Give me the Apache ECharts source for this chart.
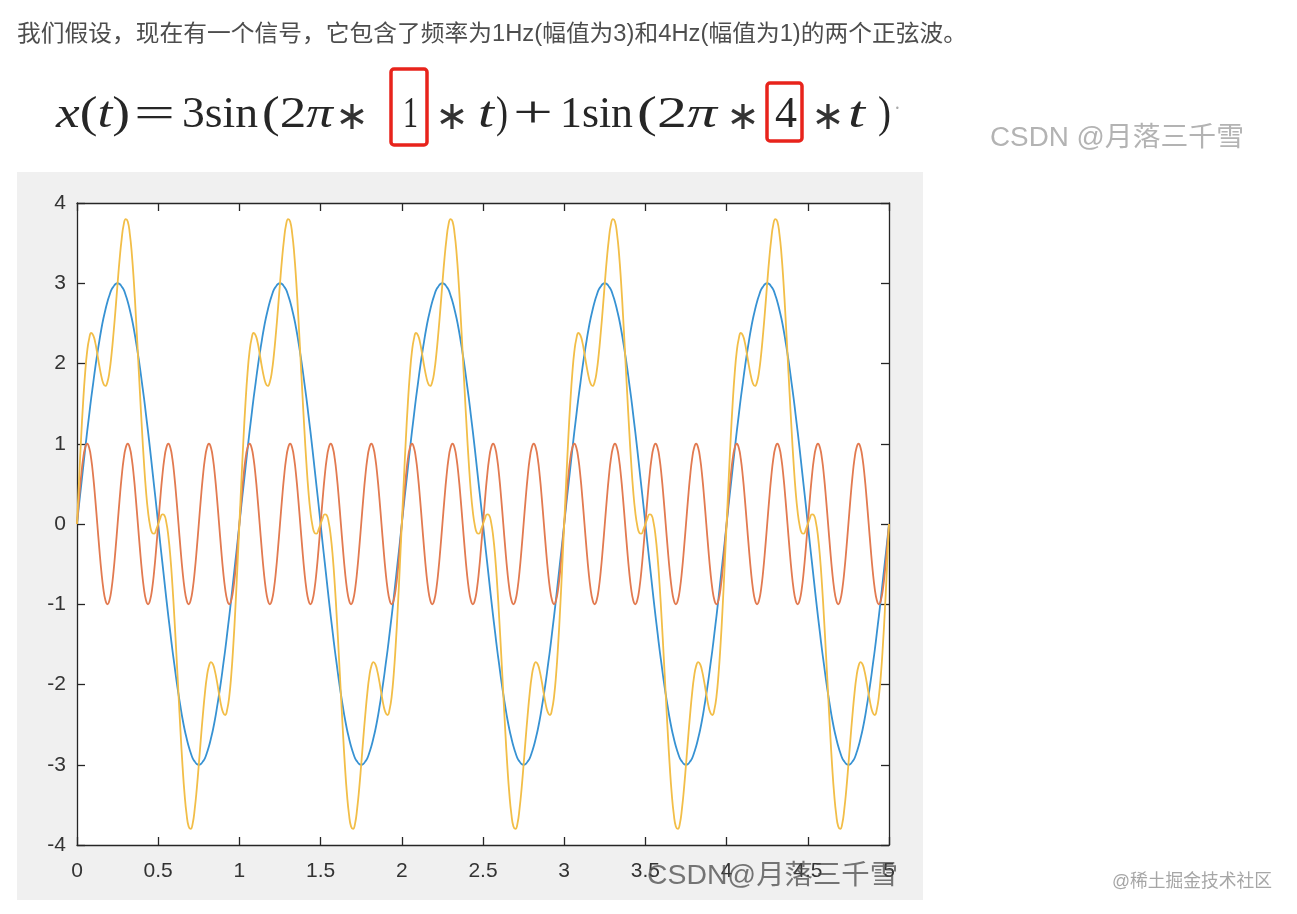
<!DOCTYPE html>
<html>
<head>
<meta charset="utf-8">
<script src="https://cdn.jsdelivr.net/npm/echarts@6/dist/echarts.min.js"></script>
<style>
  html, body { margin:0; padding:0; background:#fff; width:1297px; height:914px; overflow:hidden; }
  #panel { position:absolute; left:17px; top:172px; width:906px; height:728px; background:#f0f0f0; }
  #chart { position:absolute; left:0; top:0; width:1297px; height:914px; }
  #overlay { position:absolute; left:0; top:0; width:1297px; height:914px; pointer-events:none; z-index:10; }
</style>
</head>
<body>
<div id="panel"></div>
<div id="chart"></div>
<svg id="overlay" width="1297" height="914" xmlns="http://www.w3.org/2000/svg">
  <text x="17" y="41" font-size="23" fill="#4d4d4d" font-family="Liberation Sans, Noto Sans CJK SC, sans-serif" textLength="950" lengthAdjust="spacingAndGlyphs">我们假设，现在有一个信号，它包含了频率为1Hz(幅值为3)和4Hz(幅值为1)的两个正弦波。</text>
  <g font-family="Liberation Serif, DejaVu Serif, serif" font-size="44" fill="#262626">
    <text x="56" y="127" textLength="74" lengthAdjust="spacingAndGlyphs"><tspan font-style="italic">x</tspan>(<tspan font-style="italic">t</tspan>)</text>
    <text x="134" y="127" textLength="41" lengthAdjust="spacingAndGlyphs">=</text>
    <text x="182" y="127" textLength="76" lengthAdjust="spacingAndGlyphs">3sin</text>
    <text x="262" y="127" textLength="71" lengthAdjust="spacingAndGlyphs">(2<tspan font-style="italic">π</tspan></text>
    <text x="403" y="127" textLength="15" lengthAdjust="spacingAndGlyphs">1</text>
    <text x="478" y="127" textLength="16" lengthAdjust="spacingAndGlyphs" font-style="italic">t</text>
    <text x="496" y="127" textLength="12" lengthAdjust="spacingAndGlyphs">)</text>
    <text x="513" y="127" textLength="40" lengthAdjust="spacingAndGlyphs">+</text>
    <text x="560" y="127" textLength="73" lengthAdjust="spacingAndGlyphs">1sin</text>
    <text x="637" y="127" textLength="80" lengthAdjust="spacingAndGlyphs">(2<tspan font-style="italic">π</tspan></text>
    <text x="775" y="127" textLength="22" lengthAdjust="spacingAndGlyphs">4</text>
    <text x="848" y="127" textLength="17" lengthAdjust="spacingAndGlyphs" font-style="italic">t</text>
    <text x="878" y="127" textLength="13" lengthAdjust="spacingAndGlyphs">)</text>
    <text x="894" y="115" font-size="20" fill="#aaa">·</text>
  </g>
  <g font-family="DejaVu Sans, sans-serif" font-size="40" fill="#333" text-anchor="middle">
    <text x="352" y="129">∗</text>
    <text x="452" y="129">∗</text>
    <text x="743" y="129">∗</text>
    <text x="828" y="129">∗</text>
  </g>
  <rect x="391" y="69" width="36" height="76" rx="3" ry="3" fill="none" stroke="#e8231b" stroke-width="3.5"/>
  <rect x="767" y="83" width="35" height="58" rx="3" ry="3" fill="none" stroke="#e8231b" stroke-width="3.5"/>
  <text x="990" y="146" font-size="27" fill="#b3b3b3" font-family="Liberation Sans, Noto Sans CJK SC, sans-serif" textLength="254" lengthAdjust="spacingAndGlyphs">CSDN @月落三千雪</text>
  <text x="647" y="884" font-size="27" fill="#4a4a4a" fill-opacity="0.75" font-family="Liberation Sans, Noto Sans CJK SC, sans-serif" textLength="251" lengthAdjust="spacingAndGlyphs">CSDN@月落三千雪</text>
  <text x="1112" y="887" font-size="18" fill="#a6a6a6" font-family="Liberation Sans, Noto Sans CJK SC, sans-serif" textLength="160" lengthAdjust="spacingAndGlyphs">@稀土掘金技术社区</text>
</svg>
<script>
// Sample spacing of the values (seconds)
const STEP = 0.0125;
const X_MIN = 0, X_MAX = 5, X_INTERVAL = 0.5;
const Y_MIN = -4, Y_MAX = 4, Y_INTERVAL = 1;

// 3 sin(2*pi*1*t)  (blue)
const blue = [
0,0.24,0.47,0.70,0.93,1.15,1.36,1.57,1.76,1.95,2.12,2.28,2.43,2.56,2.67,2.77,2.85,2.92,2.96,2.99,3,2.99,2.96,2.92,2.85,2.77,2.67,2.56,2.43,2.28,2.12,1.95,1.76,1.57,1.36,1.15,0.93,0.70,0.47,0.24,0,-0.24,-0.47,-0.70,-0.93,-1.15,-1.36,-1.57,-1.76,-1.95,-2.12,-2.28,-2.43,-2.56,-2.67,-2.77,-2.85,-2.92,-2.96,-2.99,-3,-2.99,-2.96,-2.92,-2.85,-2.77,-2.67,-2.56,-2.43,-2.28,-2.12,-1.95,-1.76,-1.57,-1.36,-1.15,-0.93,-0.70,-0.47,-0.24,
0,0.24,0.47,0.70,0.93,1.15,1.36,1.57,1.76,1.95,2.12,2.28,2.43,2.56,2.67,2.77,2.85,2.92,2.96,2.99,3,2.99,2.96,2.92,2.85,2.77,2.67,2.56,2.43,2.28,2.12,1.95,1.76,1.57,1.36,1.15,0.93,0.70,0.47,0.24,0,-0.24,-0.47,-0.70,-0.93,-1.15,-1.36,-1.57,-1.76,-1.95,-2.12,-2.28,-2.43,-2.56,-2.67,-2.77,-2.85,-2.92,-2.96,-2.99,-3,-2.99,-2.96,-2.92,-2.85,-2.77,-2.67,-2.56,-2.43,-2.28,-2.12,-1.95,-1.76,-1.57,-1.36,-1.15,-0.93,-0.70,-0.47,-0.24,
0,0.24,0.47,0.70,0.93,1.15,1.36,1.57,1.76,1.95,2.12,2.28,2.43,2.56,2.67,2.77,2.85,2.92,2.96,2.99,3,2.99,2.96,2.92,2.85,2.77,2.67,2.56,2.43,2.28,2.12,1.95,1.76,1.57,1.36,1.15,0.93,0.70,0.47,0.24,0,-0.24,-0.47,-0.70,-0.93,-1.15,-1.36,-1.57,-1.76,-1.95,-2.12,-2.28,-2.43,-2.56,-2.67,-2.77,-2.85,-2.92,-2.96,-2.99,-3,-2.99,-2.96,-2.92,-2.85,-2.77,-2.67,-2.56,-2.43,-2.28,-2.12,-1.95,-1.76,-1.57,-1.36,-1.15,-0.93,-0.70,-0.47,-0.24,
0,0.24,0.47,0.70,0.93,1.15,1.36,1.57,1.76,1.95,2.12,2.28,2.43,2.56,2.67,2.77,2.85,2.92,2.96,2.99,3,2.99,2.96,2.92,2.85,2.77,2.67,2.56,2.43,2.28,2.12,1.95,1.76,1.57,1.36,1.15,0.93,0.70,0.47,0.24,0,-0.24,-0.47,-0.70,-0.93,-1.15,-1.36,-1.57,-1.76,-1.95,-2.12,-2.28,-2.43,-2.56,-2.67,-2.77,-2.85,-2.92,-2.96,-2.99,-3,-2.99,-2.96,-2.92,-2.85,-2.77,-2.67,-2.56,-2.43,-2.28,-2.12,-1.95,-1.76,-1.57,-1.36,-1.15,-0.93,-0.70,-0.47,-0.24,
0,0.24,0.47,0.70,0.93,1.15,1.36,1.57,1.76,1.95,2.12,2.28,2.43,2.56,2.67,2.77,2.85,2.92,2.96,2.99,3,2.99,2.96,2.92,2.85,2.77,2.67,2.56,2.43,2.28,2.12,1.95,1.76,1.57,1.36,1.15,0.93,0.70,0.47,0.24,0,-0.24,-0.47,-0.70,-0.93,-1.15,-1.36,-1.57,-1.76,-1.95,-2.12,-2.28,-2.43,-2.56,-2.67,-2.77,-2.85,-2.92,-2.96,-2.99,-3,-2.99,-2.96,-2.92,-2.85,-2.77,-2.67,-2.56,-2.43,-2.28,-2.12,-1.95,-1.76,-1.57,-1.36,-1.15,-0.93,-0.70,-0.47,-0.24,
0
];

// 1 sin(2*pi*4*t)  (orange)
const red = [
0,0.31,0.59,0.81,0.95,1,0.95,0.81,0.59,0.31,0,-0.31,-0.59,-0.81,-0.95,-1,-0.95,-0.81,-0.59,-0.31,0,0.31,0.59,0.81,0.95,1,0.95,0.81,0.59,0.31,0,-0.31,-0.59,-0.81,-0.95,-1,-0.95,-0.81,-0.59,-0.31,0,0.31,0.59,0.81,0.95,1,0.95,0.81,0.59,0.31,0,-0.31,-0.59,-0.81,-0.95,-1,-0.95,-0.81,-0.59,-0.31,0,0.31,0.59,0.81,0.95,1,0.95,0.81,0.59,0.31,0,-0.31,-0.59,-0.81,-0.95,-1,-0.95,-0.81,-0.59,-0.31,
0,0.31,0.59,0.81,0.95,1,0.95,0.81,0.59,0.31,0,-0.31,-0.59,-0.81,-0.95,-1,-0.95,-0.81,-0.59,-0.31,0,0.31,0.59,0.81,0.95,1,0.95,0.81,0.59,0.31,0,-0.31,-0.59,-0.81,-0.95,-1,-0.95,-0.81,-0.59,-0.31,0,0.31,0.59,0.81,0.95,1,0.95,0.81,0.59,0.31,0,-0.31,-0.59,-0.81,-0.95,-1,-0.95,-0.81,-0.59,-0.31,0,0.31,0.59,0.81,0.95,1,0.95,0.81,0.59,0.31,0,-0.31,-0.59,-0.81,-0.95,-1,-0.95,-0.81,-0.59,-0.31,
0,0.31,0.59,0.81,0.95,1,0.95,0.81,0.59,0.31,0,-0.31,-0.59,-0.81,-0.95,-1,-0.95,-0.81,-0.59,-0.31,0,0.31,0.59,0.81,0.95,1,0.95,0.81,0.59,0.31,0,-0.31,-0.59,-0.81,-0.95,-1,-0.95,-0.81,-0.59,-0.31,0,0.31,0.59,0.81,0.95,1,0.95,0.81,0.59,0.31,0,-0.31,-0.59,-0.81,-0.95,-1,-0.95,-0.81,-0.59,-0.31,0,0.31,0.59,0.81,0.95,1,0.95,0.81,0.59,0.31,0,-0.31,-0.59,-0.81,-0.95,-1,-0.95,-0.81,-0.59,-0.31,
0,0.31,0.59,0.81,0.95,1,0.95,0.81,0.59,0.31,0,-0.31,-0.59,-0.81,-0.95,-1,-0.95,-0.81,-0.59,-0.31,0,0.31,0.59,0.81,0.95,1,0.95,0.81,0.59,0.31,0,-0.31,-0.59,-0.81,-0.95,-1,-0.95,-0.81,-0.59,-0.31,0,0.31,0.59,0.81,0.95,1,0.95,0.81,0.59,0.31,0,-0.31,-0.59,-0.81,-0.95,-1,-0.95,-0.81,-0.59,-0.31,0,0.31,0.59,0.81,0.95,1,0.95,0.81,0.59,0.31,0,-0.31,-0.59,-0.81,-0.95,-1,-0.95,-0.81,-0.59,-0.31,
0,0.31,0.59,0.81,0.95,1,0.95,0.81,0.59,0.31,0,-0.31,-0.59,-0.81,-0.95,-1,-0.95,-0.81,-0.59,-0.31,0,0.31,0.59,0.81,0.95,1,0.95,0.81,0.59,0.31,0,-0.31,-0.59,-0.81,-0.95,-1,-0.95,-0.81,-0.59,-0.31,0,0.31,0.59,0.81,0.95,1,0.95,0.81,0.59,0.31,0,-0.31,-0.59,-0.81,-0.95,-1,-0.95,-0.81,-0.59,-0.31,0,0.31,0.59,0.81,0.95,1,0.95,0.81,0.59,0.31,0,-0.31,-0.59,-0.81,-0.95,-1,-0.95,-0.81,-0.59,-0.31,
0
];

// x(t) = sum of both  (yellow)
const yellow = [
0,0.54,1.06,1.51,1.88,2.15,2.31,2.38,2.35,2.26,2.12,1.97,1.84,1.75,1.72,1.77,1.90,2.11,2.38,2.68,3.00,3.30,3.55,3.73,3.80,3.77,3.62,3.37,3.02,2.59,2.12,1.64,1.18,0.76,0.41,0.15,-0.02,-0.11,-0.12,-0.07,0,0.07,0.12,0.11,0.02,-0.15,-0.41,-0.76,-1.18,-1.64,-2.12,-2.59,-3.02,-3.37,-3.62,-3.77,-3.80,-3.73,-3.55,-3.30,-3.00,-2.68,-2.38,-2.11,-1.90,-1.77,-1.72,-1.75,-1.84,-1.97,-2.12,-2.26,-2.35,-2.38,-2.31,-2.15,-1.88,-1.51,-1.06,-0.54,
0,0.54,1.06,1.51,1.88,2.15,2.31,2.38,2.35,2.26,2.12,1.97,1.84,1.75,1.72,1.77,1.90,2.11,2.38,2.68,3.00,3.30,3.55,3.73,3.80,3.77,3.62,3.37,3.02,2.59,2.12,1.64,1.18,0.76,0.41,0.15,-0.02,-0.11,-0.12,-0.07,0,0.07,0.12,0.11,0.02,-0.15,-0.41,-0.76,-1.18,-1.64,-2.12,-2.59,-3.02,-3.37,-3.62,-3.77,-3.80,-3.73,-3.55,-3.30,-3.00,-2.68,-2.38,-2.11,-1.90,-1.77,-1.72,-1.75,-1.84,-1.97,-2.12,-2.26,-2.35,-2.38,-2.31,-2.15,-1.88,-1.51,-1.06,-0.54,
0,0.54,1.06,1.51,1.88,2.15,2.31,2.38,2.35,2.26,2.12,1.97,1.84,1.75,1.72,1.77,1.90,2.11,2.38,2.68,3.00,3.30,3.55,3.73,3.80,3.77,3.62,3.37,3.02,2.59,2.12,1.64,1.18,0.76,0.41,0.15,-0.02,-0.11,-0.12,-0.07,0,0.07,0.12,0.11,0.02,-0.15,-0.41,-0.76,-1.18,-1.64,-2.12,-2.59,-3.02,-3.37,-3.62,-3.77,-3.80,-3.73,-3.55,-3.30,-3.00,-2.68,-2.38,-2.11,-1.90,-1.77,-1.72,-1.75,-1.84,-1.97,-2.12,-2.26,-2.35,-2.38,-2.31,-2.15,-1.88,-1.51,-1.06,-0.54,
0,0.54,1.06,1.51,1.88,2.15,2.31,2.38,2.35,2.26,2.12,1.97,1.84,1.75,1.72,1.77,1.90,2.11,2.38,2.68,3.00,3.30,3.55,3.73,3.80,3.77,3.62,3.37,3.02,2.59,2.12,1.64,1.18,0.76,0.41,0.15,-0.02,-0.11,-0.12,-0.07,0,0.07,0.12,0.11,0.02,-0.15,-0.41,-0.76,-1.18,-1.64,-2.12,-2.59,-3.02,-3.37,-3.62,-3.77,-3.80,-3.73,-3.55,-3.30,-3.00,-2.68,-2.38,-2.11,-1.90,-1.77,-1.72,-1.75,-1.84,-1.97,-2.12,-2.26,-2.35,-2.38,-2.31,-2.15,-1.88,-1.51,-1.06,-0.54,
0,0.54,1.06,1.51,1.88,2.15,2.31,2.38,2.35,2.26,2.12,1.97,1.84,1.75,1.72,1.77,1.90,2.11,2.38,2.68,3.00,3.30,3.55,3.73,3.80,3.77,3.62,3.37,3.02,2.59,2.12,1.64,1.18,0.76,0.41,0.15,-0.02,-0.11,-0.12,-0.07,0,0.07,0.12,0.11,0.02,-0.15,-0.41,-0.76,-1.18,-1.64,-2.12,-2.59,-3.02,-3.37,-3.62,-3.77,-3.80,-3.73,-3.55,-3.30,-3.00,-2.68,-2.38,-2.11,-1.90,-1.77,-1.72,-1.75,-1.84,-1.97,-2.12,-2.26,-2.35,-2.38,-2.31,-2.15,-1.88,-1.51,-1.06,-0.54,
0
];

const toPairs = arr => arr.map((v, i) => [+(i * STEP).toFixed(4), v]);

const AX = '#262626';
const axisCommon = {
  type: 'value',
  axisLine: { show: true, onZero: false, lineStyle: { color: AX, width: 1.3 } },
  axisTick: { show: true, inside: true, length: 8, lineStyle: { color: AX, width: 1.3 } },
  splitLine: { show: false }
};
const labelStyle = { color: '#333', fontSize: 21, fontFamily: 'Liberation Sans, Arial, sans-serif' };

const chart = echarts.init(document.getElementById('chart'), null, { renderer: 'canvas' });
chart.setOption({
  animation: false,
  backgroundColor: 'transparent',
  grid: { left: 77, top: 203, width: 812, height: 642, show: true, backgroundColor: '#ffffff', borderWidth: 0 },
  xAxis: [
    Object.assign({}, axisCommon, { position: 'bottom', min: X_MIN, max: X_MAX, interval: X_INTERVAL,
      axisLabel: Object.assign({ margin: 16 }, labelStyle) }),
    Object.assign({}, axisCommon, { position: 'top', min: X_MIN, max: X_MAX, interval: X_INTERVAL,
      axisLabel: { show: false } })
  ],
  yAxis: [
    Object.assign({}, axisCommon, { position: 'left', min: Y_MIN, max: Y_MAX, interval: Y_INTERVAL,
      axisLabel: Object.assign({ margin: 11 }, labelStyle) }),
    Object.assign({}, axisCommon, { position: 'right', min: Y_MIN, max: Y_MAX, interval: Y_INTERVAL,
      axisLabel: { show: false } })
  ],
  series: [
    { name: '3sin(2π·1·t)', type: 'line', data: toPairs(blue), smooth: true, showSymbol: false,
      lineStyle: { color: '#3792d3', width: 1.8 }, itemStyle: { color: '#3792d3' }, z: 2 },
    { name: 'sin(2π·4·t)', type: 'line', data: toPairs(red), smooth: true, showSymbol: false,
      lineStyle: { color: '#e27a50', width: 1.8 }, itemStyle: { color: '#e27a50' }, z: 3 },
    { name: 'x(t)', type: 'line', data: toPairs(yellow), smooth: true, showSymbol: false,
      lineStyle: { color: '#f2be48', width: 1.8 }, itemStyle: { color: '#f2be48' }, z: 4 }
  ]
});
</script>
</body>
</html>
